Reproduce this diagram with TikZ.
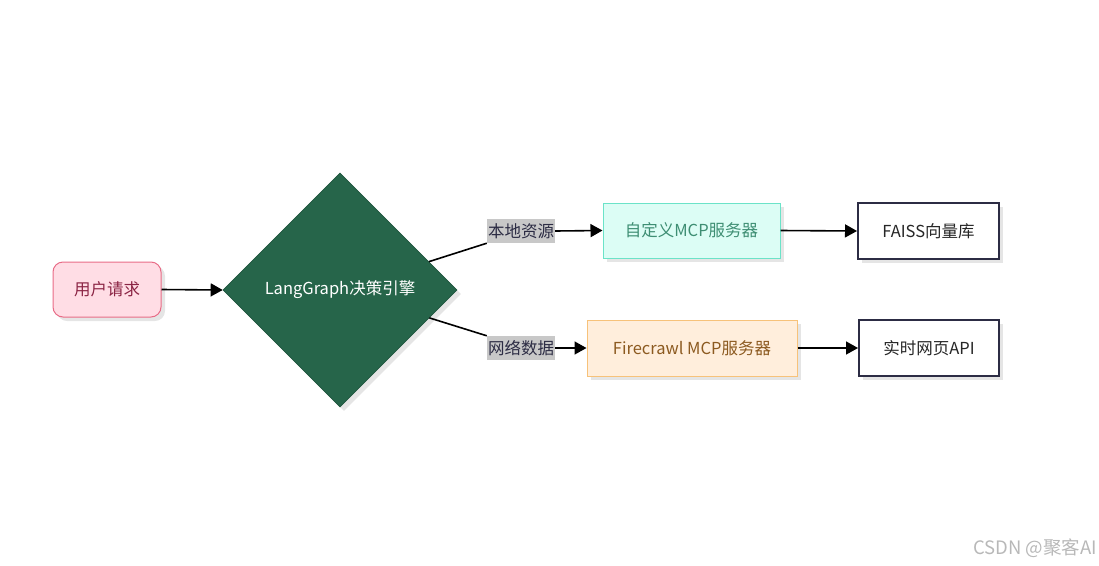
\documentclass[tikz,border=0pt]{standalone}
\usepackage{fontspec}
\setmainfont{Noto Sans CJK SC}
\usetikzlibrary{shapes.geometric,arrows.meta,shadows}
\definecolor{pinkfill}{HTML}{FFDDE5}
\definecolor{pinkdraw}{HTML}{E86C87}
\definecolor{pinktext}{HTML}{8B2444}
\definecolor{dgreen}{HTML}{26654A}
\definecolor{tealfill}{HTML}{DCFDF5}
\definecolor{tealdraw}{HTML}{6BE3C8}
\definecolor{tealtext}{HTML}{3E8E73}
\definecolor{orfill}{HTML}{FFEEDC}
\definecolor{ordraw}{HTML}{F7C27A}
\definecolor{ortext}{HTML}{8C5A20}
\definecolor{navy}{HTML}{2C2C44}
\definecolor{lblgray}{HTML}{C8C8C8}
\tikzset{
  shad/.style={drop shadow={shadow xshift=4pt,shadow yshift=-4pt,fill=black,opacity=0.1}},
  boxbase/.style={rectangle,inner sep=0pt,font=\fontsize{16.5}{19}\selectfont,shad},
  userbox/.style={boxbase,rounded corners=10pt,fill=pinkfill,draw=pinkdraw,line width=1pt,text=pinktext,minimum width=108pt,minimum height=55pt},
  decide/.style={diamond,aspect=1,inner sep=0pt,minimum width=234pt,minimum height=234pt,fill=dgreen,draw=dgreen!85!black,line width=0.6pt,text=white,font=\fontsize{16.5}{19}\selectfont,shad},
  tealbox/.style={boxbase,fill=tealfill,draw=tealdraw,line width=1pt,text=tealtext},
  orbox/.style={boxbase,fill=orfill,draw=ordraw,line width=1pt,text=ortext},
  darkbox/.style={boxbase,fill=white,draw=navy,line width=2pt,text=black!85},
  elabel/.style={rectangle,fill=lblgray,inner sep=0pt,minimum width=68pt,minimum height=24pt,font=\fontsize{16.5}{19}\selectfont,text=navy},
  conn/.style={line width=1.6pt,draw=black},
  arr/.style={conn,-{Triangle[length=12pt,width=13pt]}}
}
\begin{document}
\begin{tikzpicture}[x=1pt,y=-1pt]
\useasboundingbox (0,0) rectangle (1099,565);
\node[userbox] (u) at (107,289.5) {用户请求};
\node[decide] (d) at (340,290) {LangGraph决策引擎};
\node[elabel] (l1) at (521,231) {本地资源};
\node[elabel] (l2) at (521,348) {网络数据};
\node[tealbox,minimum width=177pt,minimum height=55pt] (m1) at (691.5,230.5) {自定义MCP服务器};
\node[orbox,minimum width=210pt,minimum height=56pt] (m2) at (692,348) {Firecrawl MCP服务器};
\node[darkbox,minimum width=141pt,minimum height=56pt] (f) at (928.5,231) {FAISS向量库};
\node[darkbox,minimum width=140pt,minimum height=56pt] (a) at (929,348) {实时网页API};
\node[text=black!28,font=\fontsize{18.5}{21}\selectfont,anchor=east,inner sep=0pt] (wm) at (1097,548) {CSDN @聚客AI};

\draw[arr] (u.east) -- (d.west);
\draw[conn] (d) -- (l1.south west);
\draw[conn] (d) -- (l2.north west);
\draw[arr] (l1.east) -- (m1.west);
\draw[arr] (l2.east) -- (m2.west);
\draw[arr] (m1.east) -- (f.west);
\draw[arr] (m2.east) -- (a.west);
\end{tikzpicture}
\end{document}
